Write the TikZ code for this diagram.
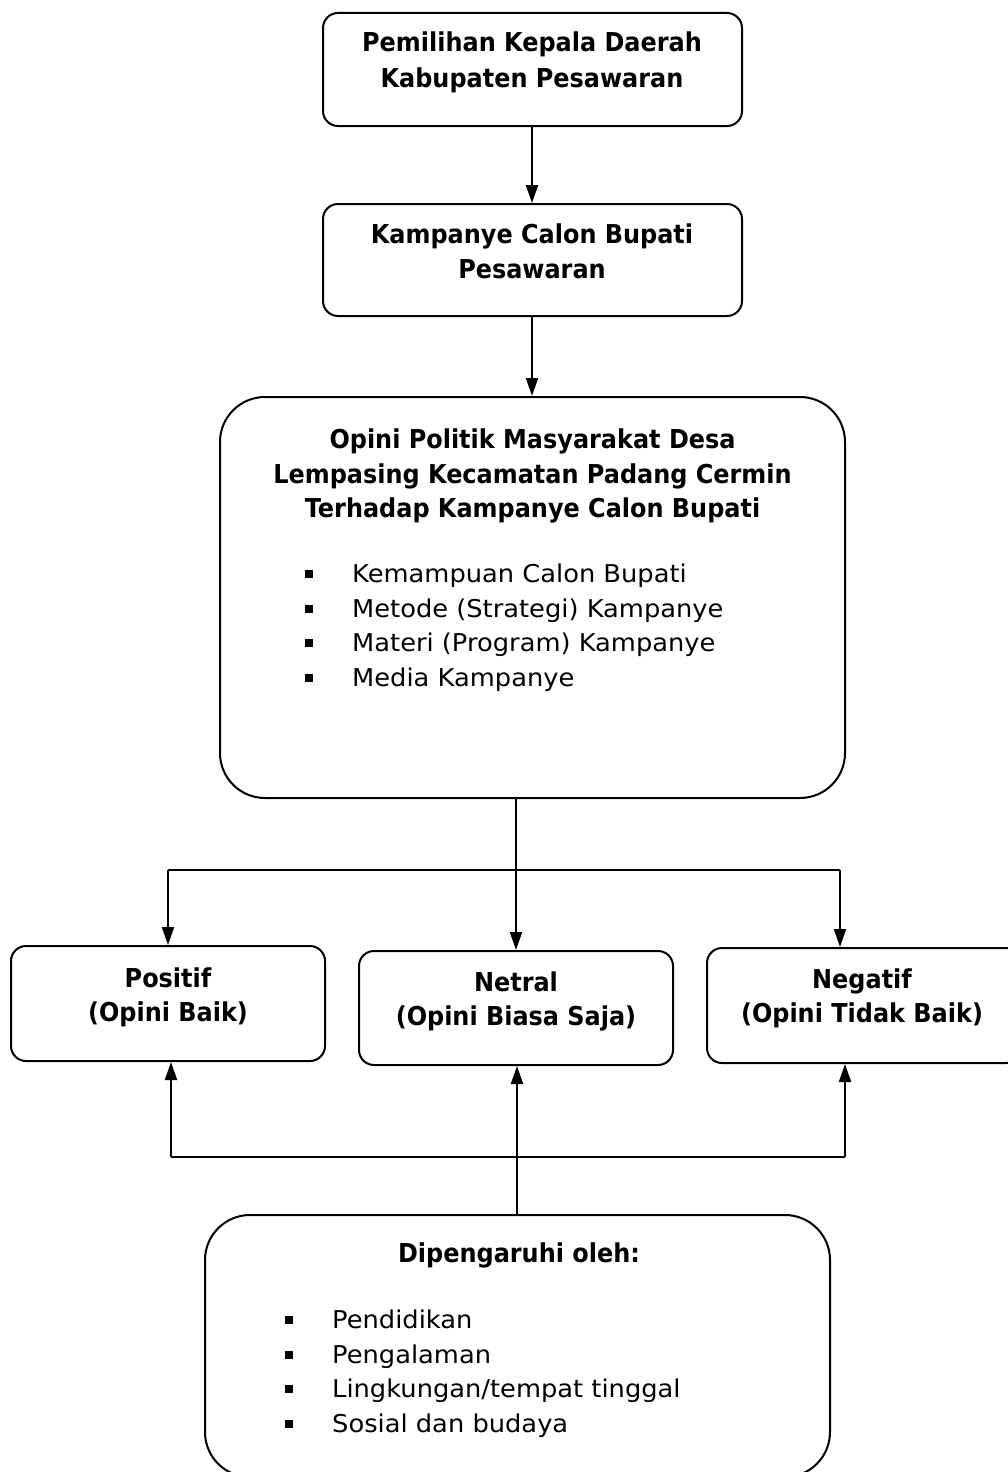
\documentclass[tikz,border=0pt]{standalone}
\usepackage{fontspec}
\setmainfont{DejaVu Sans}[FakeStretch=1.05]
\newfontfamily\boldfam{DejaVu Sans}[FakeStretch=0.921]
\usetikzlibrary{arrows.meta}
\newcommand\bulmark{\llap{\rule[4pt]{8pt}{8pt}\hspace{39pt}}}
\begin{document}
\begin{tikzpicture}[x=1pt,y=-1pt,
  box/.style={draw,line width=2pt,rounded corners=15pt,inner sep=0pt},
  bigbox/.style={box,rounded corners=45pt},
  txt/.style={font=\fontsize{24.5}{34}\selectfont,inner sep=0pt,anchor=base},
  btxt/.style={txt,font=\fontsize{26}{34}\selectfont\boldfam\bfseries},
  itm/.style={txt,anchor=base west},
  conn/.style={line width=2pt},
  arr/.style={conn,-{Triangle[length=18pt,width=12pt]}}]
\useasboundingbox (0,0) rectangle (1008,1472);
% boxes
\node[box,minimum width=419pt,minimum height=113pt] (b1) at (532.5,69.5) {};
\node[box,minimum width=419pt,minimum height=112pt] (b2) at (532.5,260) {};
\node[bigbox,minimum width=625pt,minimum height=401pt] (b3) at (532.5,597.5) {};
\node[box,minimum width=314pt,minimum height=115pt] (pos) at (168,1003.5) {};
\node[box,minimum width=314pt,minimum height=114pt] (net) at (516,1008) {};
\node[box,minimum width=314pt,minimum height=115pt] (neg) at (864,1005.5) {};
\node[bigbox,minimum width=625pt,minimum height=262pt] (b4) at (517.5,1346) {};
% texts
\node[btxt] (t1a) at (532,52) {Pemilihan Kepala Daerah};
\node[btxt] (t1b) at (532,88) {Kabupaten Pesawaran};
\node[btxt] (t2a) at (532,243) {Kampanye Calon Bupati};
\node[btxt] (t2b) at (532,278) {Pesawaran};
\node[btxt] (t3a) at (532.5,448) {Opini Politik Masyarakat Desa};
\node[btxt] (t3b) at (532.5,483) {Lempasing Kecamatan Padang Cermin};
\node[btxt] (t3c) at (532.5,517) {Terhadap Kampanye Calon Bupati};
\node[itm] (l1) at (352,582) {\bulmark Kemampuan Calon Bupati};
\node[itm] (l2) at (352,617) {\bulmark Metode (Strategi) Kampanye};
\node[itm] (l3) at (352,651) {\bulmark Materi (Program) Kampanye};
\node[itm] (l4) at (352,686) {\bulmark Media Kampanye};
\node[btxt] (pa) at (168,987) {Positif};
\node[btxt] (pb) at (168,1021) {(Opini Baik)};
\node[btxt] (na) at (516,991) {Netral};
\node[btxt] (nb) at (516,1025) {(Opini Biasa Saja)};
\node[btxt] (ga) at (862,988) {Negatif};
\node[btxt] (gb) at (862,1022) {(Opini Tidak Baik)};
\node[btxt] (t4) at (519,1262) {Dipengaruhi oleh:};
\node[itm] (m1) at (332,1328) {\bulmark Pendidikan};
\node[itm] (m2) at (332,1363) {\bulmark Pengalaman};
\node[itm] (m3) at (332,1397) {\bulmark Lingkungan/tempat tinggal};
\node[itm] (m4) at (332,1432) {\bulmark Sosial dan budaya};
% junction coordinates
\coordinate (hl) at (168,870);
\coordinate (hr) at (840,870);
\coordinate (ll) at (171,1157);
\coordinate (lr) at (845,1157);
% connectors
\draw[arr] (b1.south -| 532,0) -- (b2.north -| 532,0);
\draw[arr] (b2.south -| 532,0) -- (b3.north -| 532,0);
\draw[arr] (b3.south -| 516,0) -- (net.north);
\draw[conn] (hl) -- (hr);
\draw[arr] (hl) -- (hl |- pos.north);
\draw[arr] (hr) -- (hr |- neg.north);
\draw[arr] (b4.north -| 517,0) -- (net.south -| 517,0);
\draw[conn] (ll) -- (lr);
\draw[arr] (ll) -- (ll |- pos.south);
\draw[arr] (lr) -- (lr |- neg.south);
\end{tikzpicture}
\end{document}
